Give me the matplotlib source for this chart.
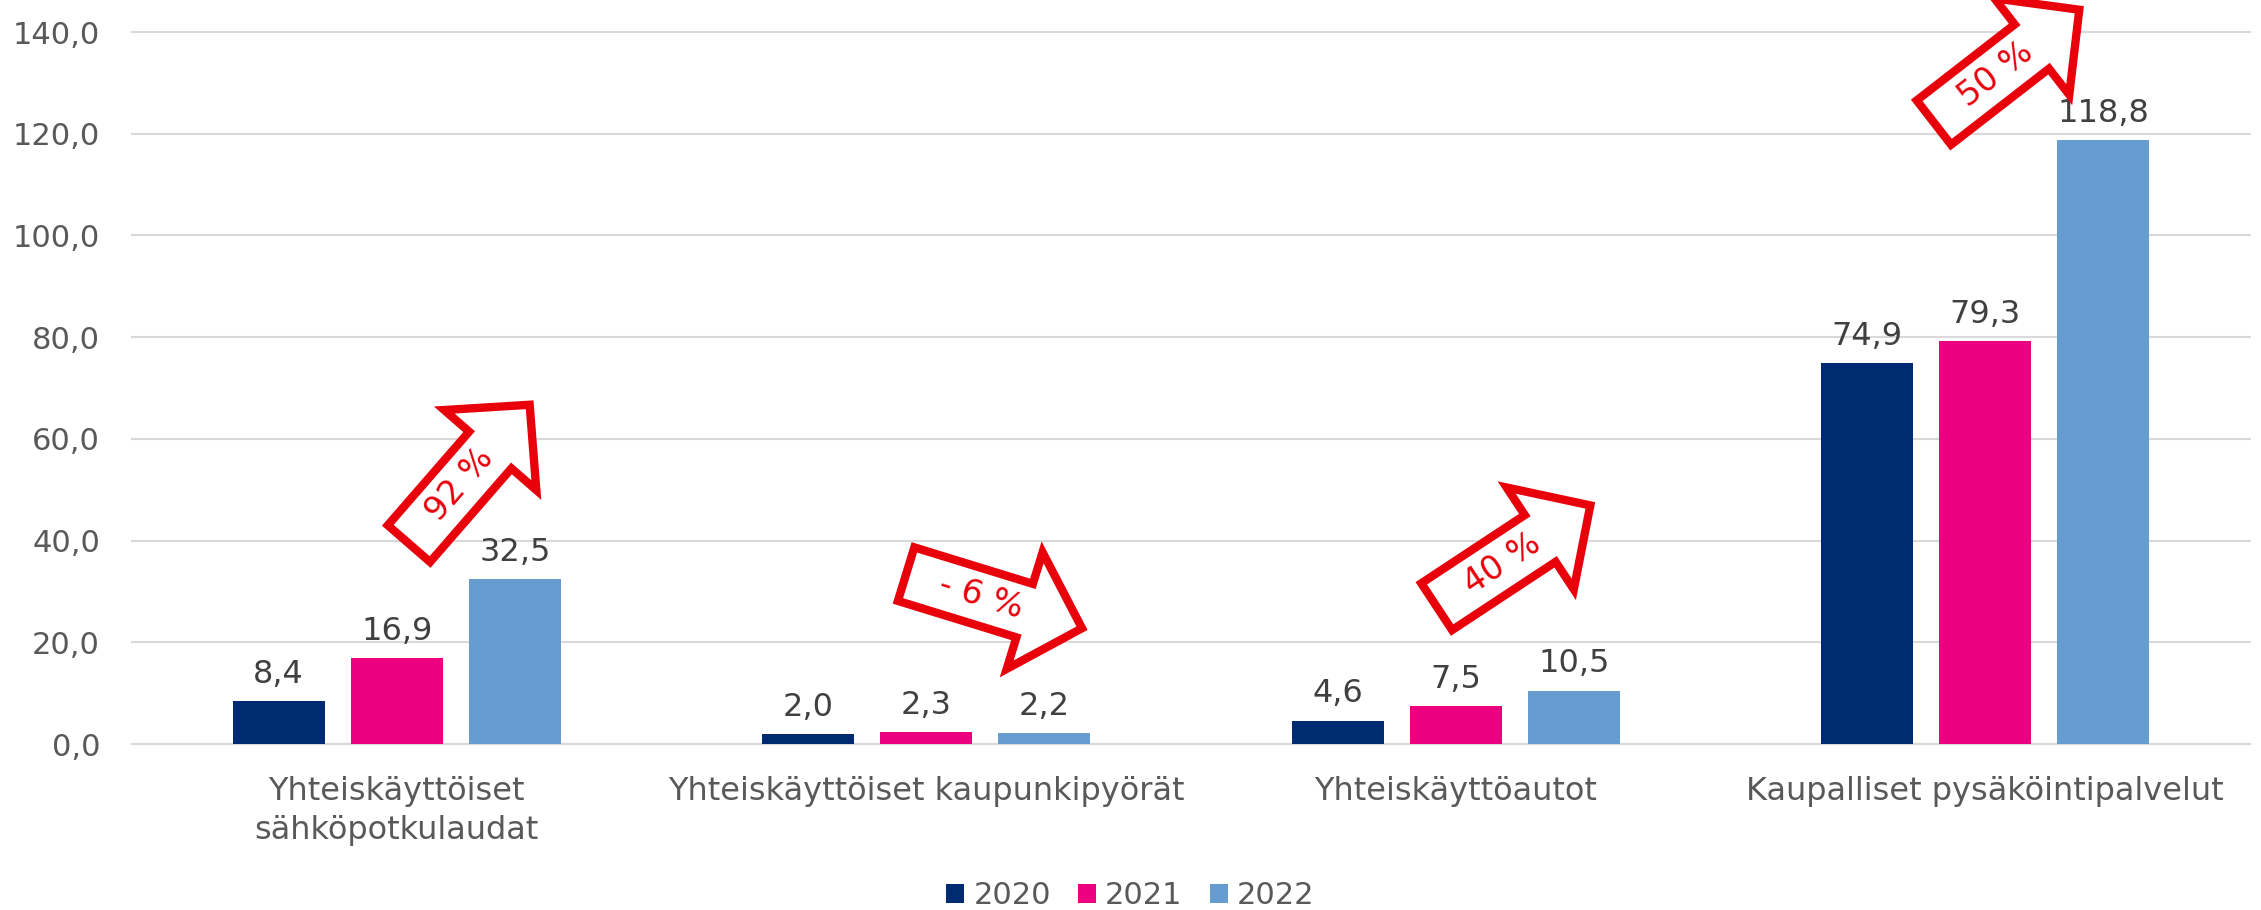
import matplotlib
matplotlib.use("Agg")
import matplotlib.pyplot as plt
import numpy as np
from matplotlib.patches import Polygon
from matplotlib.transforms import Affine2D, ScaledTranslation

# ---------------- data ----------------
categories = ["Yhteiskäyttöiset\nsähköpotkulaudat",
              "Yhteiskäyttöiset kaupunkipyörät",
              "Yhteiskäyttöautot",
              "Kaupalliset pysäköintipalvelut"]
years = ["2020", "2021", "2022"]
v2020 = [8.4, 2.0, 4.6, 74.9]
v2021 = [16.9, 2.3, 7.5, 79.3]
v2022 = [32.5, 2.2, 10.5, 118.8]
colors = ["#002A72", "#EC0080", "#669CD0"]

# change annotations: label, anchor (category position, value), angle (deg)
change_labels = ["92 %", "- 6 %", "40 %", "50 %"]
change_x = [0.023, 0.962, 1.964, 2.903]
change_y = [39.4, 33.4, 27.0, 122.2]
change_angle = [49.0, -17.1, 33.4, 37.8]

# ---------------- figure ----------------
W, H, DPI = 2261, 910, 100
fig = plt.figure(figsize=(W / DPI, H / DPI), dpi=DPI)
ax = fig.add_axes([132 / W, 166 / H, (2250 - 132) / W, (878 - 166) / H])

plt.rcParams['font.family'] = ['DejaVu Sans']
FS = 22
TICK_C = "#595959"
LAB_C = "#404040"
RED = "#E8000B"

x = np.arange(len(categories))
bw = 0.174
off = 0.223
series = [v2020, v2021, v2022]
for i, (vals, col, yr) in enumerate(zip(series, colors, years)):
    bars = ax.bar(x + (i - 1) * off, vals, width=bw, color=col, label=yr, zorder=3)
    for b, v in zip(bars, vals):
        ax.annotate(f"{v:.1f}".replace(".", ","),
                    (b.get_x() + b.get_width() / 2, v),
                    xytext=(0, 8), textcoords="offset points",
                    ha="center", va="bottom", fontsize=23, color=LAB_C, zorder=4)

ax.set_xlim(-0.5, 3.5)
ax.set_ylim(0, 140)
ax.set_yticks(np.arange(0, 141, 20))
ax.yaxis.set_major_formatter(plt.FuncFormatter(lambda v, p: f"{v:.1f}".replace(".", ",")))
ax.set_xticks(x)
ax.set_xticklabels(categories, linespacing=1.35)
ax.tick_params(axis="y", length=0, pad=23, labelsize=FS, labelcolor=TICK_C)
ax.tick_params(axis="x", length=0, pad=23, labelsize=23, labelcolor=TICK_C)
for s in ["top", "right", "left"]:
    ax.spines[s].set_visible(False)
ax.spines["bottom"].set_color("#D9D9D9")
ax.spines["bottom"].set_linewidth(1.5)
ax.grid(axis="y", color="#D9D9D9", linewidth=1.5, zorder=0)
for gl in ax.get_ygridlines():
    gl.set_clip_on(False)
ax.set_axisbelow(True)

# ---------------- change arrows (shape in pixels) ----------------
L, hl, w, h = 184, 60, 28, 61
shape = np.array([(0, -w), (L - hl, -w), (L - hl, -h), (L, 0),
                  (L - hl, h), (L - hl, w), (0, w)])
for lab, cx, cy, ang in zip(change_labels, change_x, change_y, change_angle):
    tr = Affine2D().rotate_deg(ang) + ScaledTranslation(cx, cy, ax.transData)
    poly = Polygon(shape, closed=True, facecolor="white", edgecolor=RED,
                   linewidth=6, joinstyle="miter", transform=tr, clip_on=False, zorder=5)
    ax.add_patch(poly)
    ax.text(78, 0, lab, transform=tr, rotation=ang, rotation_mode="anchor",
            ha="center", va="center", fontsize=24, color=RED, zorder=6)

# ---------------- legend ----------------
leg = fig.legend(loc="center", bbox_to_anchor=(0.5, 14 / H), ncol=3, frameon=False,
                 fontsize=FS, handlelength=0.58, handleheight=0.58,
                 handletextpad=0.3, columnspacing=0.9, labelcolor=TICK_C)

fig.savefig("out.png", dpi=DPI)
